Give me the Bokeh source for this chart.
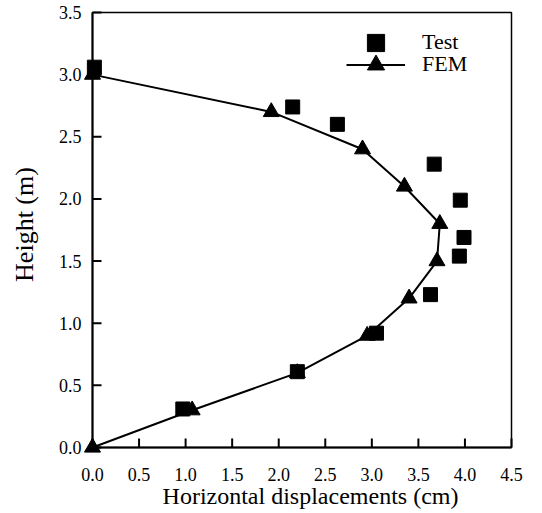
from bokeh.plotting import figure
from bokeh.models import Range1d, Legend, LegendItem, Label
from bokeh.core.properties import value
from bokeh.embed import file_html
from bokeh.resources import INLINE

# Measured lateral displacement profile along the wall height
test_x = [0.97, 2.20, 3.05, 3.63, 3.94, 3.99, 3.95, 3.67, 2.63, 2.15, 0.02]
test_y = [0.31, 0.61, 0.92, 1.23, 1.54, 1.69, 1.99, 2.28, 2.60, 2.74, 3.06]

# Finite element prediction
fem_x = [0.00, 1.07, 2.20, 2.95, 3.40, 3.70, 3.73, 3.35, 2.90, 1.92, 0.00]
fem_y = [0.00, 0.30, 0.60, 0.90, 1.20, 1.50, 1.80, 2.10, 2.40, 2.70, 3.00]

x_ticks = [0.0, 0.5, 1.0, 1.5, 2.0, 2.5, 3.0, 3.5, 4.0, 4.5]
x_tick_labels = ["0.0", "0.5", "1.0", "1.5", "2.0", "2.5", "3.0", "3.5", "4.0", "4.5"]
y_ticks = [0.0, 0.5, 1.0, 1.5, 2.0, 2.5, 3.0, 3.5]
y_tick_labels = ["0.0", "0.5", "1.0", "1.5", "2.0", "2.5", "3.0", "3.5"]

x_title = "Horizontal displacements (cm)"
y_title = "Height (m)"

SERIF = "Liberation Serif"

# Page size and the pixel box that holds the 0..4.5 x 0..3.5 plotting area
W, H = 542, 513
BOX_L, BOX_R, BOX_T, BOX_B = 92, 511, 12, 447
X0, X1, Y0, Y1 = 0.0, 4.5, 0.0, 3.5
kx = (BOX_R - BOX_L) / (X1 - X0)   # pixels per cm
ky = (BOX_B - BOX_T) / (Y1 - Y0)   # pixels per m

p = figure(width=W, height=H, output_backend="svg", toolbar_location=None,
           x_axis_type=None, y_axis_type=None, min_border=0,
           x_range=Range1d(X0 - BOX_L / kx, X1 + (W - BOX_R) / kx),
           y_range=Range1d(Y0 - (H - BOX_B) / ky, Y1 + BOX_T / ky))
p.grid.visible = False
p.outline_line_color = None
p.background_fill_color = "white"
p.border_fill_color = "white"

# Plot box: thin top/right edges, heavier axis lines on the left and bottom
p.quad(left=[X0], right=[X1], bottom=[Y0], top=[Y1],
       fill_color=None, line_color="black", line_width=1.5)
p.segment(x0=[X0, X0], y0=[Y0, Y0], x1=[X1, X0], y1=[Y0, Y1],
          line_color="black", line_width=2)

# Inward major ticks
tick_len = 9
p.segment(x0=x_ticks, y0=[Y0] * len(x_ticks), x1=x_ticks,
          y1=[Y0 + tick_len / ky] * len(x_ticks), line_color="black", line_width=2)
p.segment(x0=[X0] * len(y_ticks), y0=y_ticks, x1=[X0 + tick_len / kx] * len(y_ticks),
          y1=y_ticks, line_color="black", line_width=2)

# Tick labels
p.text(x=x_ticks, y=[Y0 - 27 / ky] * len(x_ticks), text=x_tick_labels,
       text_align="center", text_baseline="alphabetic",
       text_font=value(SERIF), text_font_size="18px", text_color="black")
p.text(x=[X0 - 11 / kx] * len(y_ticks), y=y_ticks, text=y_tick_labels,
       text_align="right", text_baseline="middle",
       text_font=value(SERIF), text_font_size="18px", text_color="black")

# Axis titles
p.add_layout(Label(x=310, y=H - 495, x_units="screen", y_units="screen", text=x_title,
                   text_align="center", text_baseline="alphabetic",
                   text_font=SERIF, text_font_size="24px", text_color="black"))
p.add_layout(Label(x=24, y=H - 224, x_units="screen", y_units="screen", text=y_title,
                   angle=1.5708, text_align="center", text_baseline="alphabetic",
                   text_font=SERIF, text_font_size="26px", text_color="black"))

# Data
test_r = p.scatter(test_x, test_y, marker="square", size=14,
                   fill_color="black", line_color="black")
fem_line = p.line(fem_x, fem_y, line_color="black", line_width=2)
fem_pts = p.scatter(fem_x, fem_y, marker="triangle", size=16,
                    fill_color="black", line_color="black")

# One legend per entry so the two rows can sit close together with large keys
legend_style = dict(orientation="vertical", glyph_width=59, glyph_height=43,
                    label_standoff=17, padding=0, margin=0, spacing=0,
                    border_line_color=None, background_fill_alpha=0,
                    label_text_font=SERIF, label_text_font_size="22px",
                    label_text_color="black")
p.add_layout(Legend(items=[LegendItem(label="Test", renderers=[test_r])],
                    location=(346, H - 63.5), **legend_style), "center")
p.add_layout(Legend(items=[LegendItem(label="FEM", renderers=[fem_line, fem_pts])],
                    location=(346, H - 85.5), **legend_style), "center")

open("out.html", "w").write(file_html(p, INLINE))
